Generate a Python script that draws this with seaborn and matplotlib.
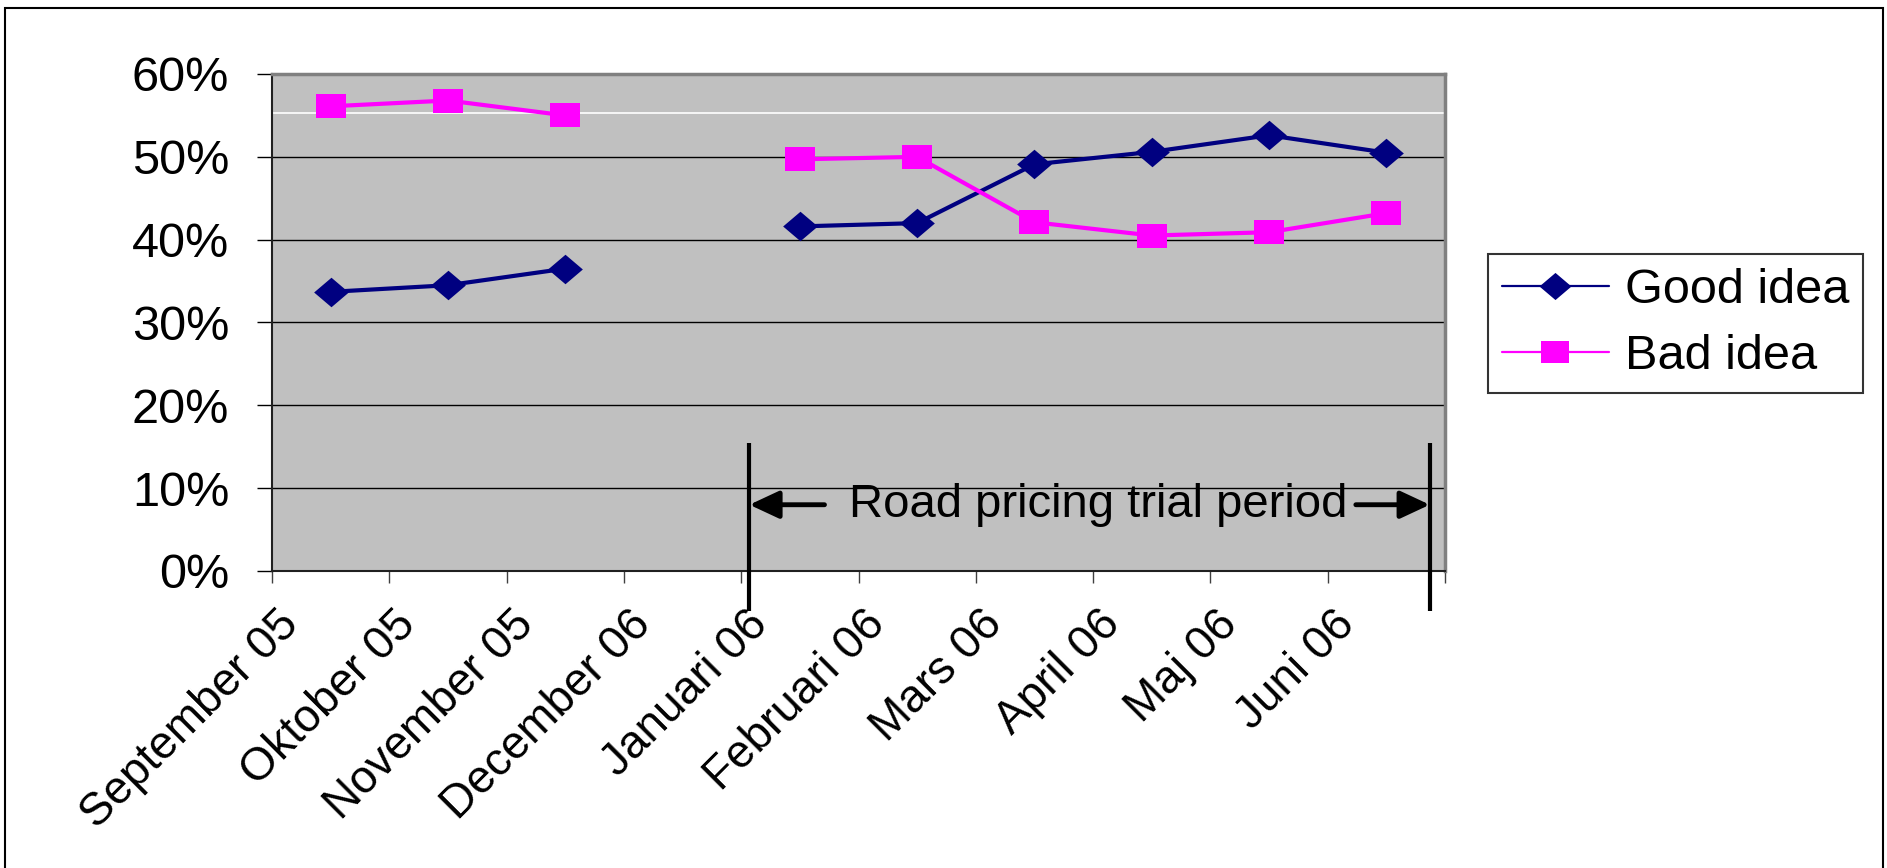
import numpy as np
import pandas as pd
import matplotlib
matplotlib.use("Agg")
import matplotlib.pyplot as plt
from matplotlib import font_manager
from matplotlib.lines import Line2D
from matplotlib.patches import Rectangle
from matplotlib.ticker import PercentFormatter
from matplotlib.transforms import ScaledTranslation
import seaborn as sns

# Survey results per month (percent of respondents)
months = ["September 05", "Oktober 05", "November 05", "December 06", "Januari 06",
          "Februari 06", "Mars 06", "April 06", "Maj 06", "Juni 06"]
good_idea = [33.7, 34.5, 36.5, np.nan, 41.6, 42.0, 49.1, 50.6, 52.6, 50.5]
bad_idea = [56.1, 56.8, 55.0, np.nan, 49.7, 50.0, 42.1, 40.5, 40.9, 43.2]
series_names = ["Good idea", "Bad idea"]
y_ticks = [0, 10, 20, 30, 40, 50, 60]
trial_label = "Road pricing trial period"
trial_start, trial_end = 4.07, 9.87

palette = {"Good idea": "#000080", "Bad idea": "#ff00ff"}
marker_map = {
    "Good idea": np.array([(-1, 0), (0, 0.85), (1, 0), (0, -0.85)]),
    "Bad idea": np.array([(-1, -0.8), (1, -0.8), (1, 0.8), (-1, 0.8)]),
}
marker_size = {"Good idea": 25, "Bad idea": 22}

sns.set_theme(style="white")
plt.rcParams["font.family"] = ["Liberation Sans", "DejaVu Sans"]
plt.rcParams["text.color"] = "black"
plt.rcParams["xtick.color"] = "black"
plt.rcParams["ytick.color"] = "black"

# Long-form table; a missing month starts a new segment so the line breaks there
rows = []
for name, vals in zip(series_names, [good_idea, bad_idea]):
    seg = 0
    for i, v in enumerate(vals):
        if np.isnan(v):
            seg += 1
            continue
        rows.append({"series": name, "pos": i + 0.5, "value": v,
                     "segment": f"{name}-{seg}"})
df = pd.DataFrame(rows)

W, H = 1887, 868
fig = plt.figure(figsize=(W / 100, H / 100), dpi=100)
ax = fig.add_axes([272 / W, 1 - 571 / H, (1445 - 272) / W, (571 - 74) / H])
ax.set_facecolor("#C0C0C0")

for name in series_names:
    sns.lineplot(data=df[df["series"] == name], x="pos", y="value",
                 units="segment", estimator=None, sort=False,
                 color=palette[name], marker=marker_map[name],
                 markersize=marker_size[name], markeredgewidth=0,
                 markerfacecolor=palette[name], markeredgecolor=palette[name],
                 linewidth=3.0, legend=False, ax=ax, zorder=3)

ax.set_xlim(0, 10)
ax.set_ylim(0, 60)
ax.set_yticks(y_ticks)
ax.yaxis.set_major_formatter(PercentFormatter(decimals=0))
ax.set_xticks(np.arange(len(months) + 1))
ax.set_xlabel("")
ax.set_ylabel("")

ax.grid(axis="y", color="black", linewidth=1)
ax.grid(axis="x", visible=False)
ax.set_axisbelow(True)
ax.axhline(55.3, color="white", linewidth=1.2, zorder=1)

ax.tick_params(axis="y", left=True, length=10.8, width=1, pad=20,
               labelsize=35, direction="out", color="black")
ax.tick_params(axis="x", bottom=True, length=8.6, width=1, pad=25,
               direction="out", color="#404040")

# Month labels: rotated, right end just past each tick
ax.set_xticklabels(months + [""], rotation=45, ha="right", va="center",
                   rotation_mode="anchor", fontsize=33)
shift = ScaledTranslation(20 / 100, 0, fig.dpi_scale_trans)
for lab in ax.get_xticklabels():
    lab.set_transform(lab.get_transform() + shift)

for side in ("top", "right"):
    ax.spines[side].set_color("#808080")
    ax.spines[side].set_linewidth(2.5)
for side in ("left", "bottom"):
    ax.spines[side].set_color("#202020")
    ax.spines[side].set_linewidth(1.5)

# Trial period marker: boundary lines, arrows and caption
for xv in (trial_start, trial_end):
    ax.plot([xv, xv], [15.5, -4.8], color="black", linewidth=3,
            clip_on=False, solid_capstyle="butt", zorder=4)
arrow_kw = dict(arrowstyle="-|>,head_length=0.75,head_width=0.35", lw=3.5,
                color="black", shrinkA=0, shrinkB=0, mutation_scale=24)
ax.annotate("", xy=(trial_start, 8.0), xytext=(4.71, 8.0), arrowprops=arrow_kw)
ax.annotate("", xy=(trial_end, 8.0), xytext=(9.24, 8.0), arrowprops=arrow_kw)

installed = {f.name for f in font_manager.fontManager.ttflist}
if "Liberation Sans Narrow" in installed:
    ax.text(7.04, 6.5, trial_label, ha="center", va="baseline", fontsize=40,
            family=["Liberation Sans Narrow", "Liberation Sans"])
else:
    ax.text(7.04, 6.5, trial_label, ha="center", va="baseline", fontsize=34)

handles = [
    Line2D([], [], color=palette[n], marker=marker_map[n], linewidth=1.6,
           markersize=marker_size[n] - 2, markeredgewidth=0)
    for n in series_names
]
leg = fig.legend(handles, series_names, loc="upper left",
                 bbox_to_anchor=(1488 / W, 1 - 254 / H),
                 bbox_transform=fig.transFigure, frameon=True, fancybox=False,
                 edgecolor="#333333", fontsize=35, handlelength=2.2,
                 handletextpad=0.33, borderpad=0.28, labelspacing=0.45,
                 borderaxespad=0)
leg.get_frame().set_linewidth(1.5)
leg.get_frame().set_alpha(1)

# Chart area border
fig.patches.append(Rectangle((5 / W, -0.01), (1883 - 5) / W, 1 - 8 / H + 0.01,
                             transform=fig.transFigure, fill=False,
                             edgecolor="black", linewidth=1.5))

fig.savefig("out.png", dpi=100)
